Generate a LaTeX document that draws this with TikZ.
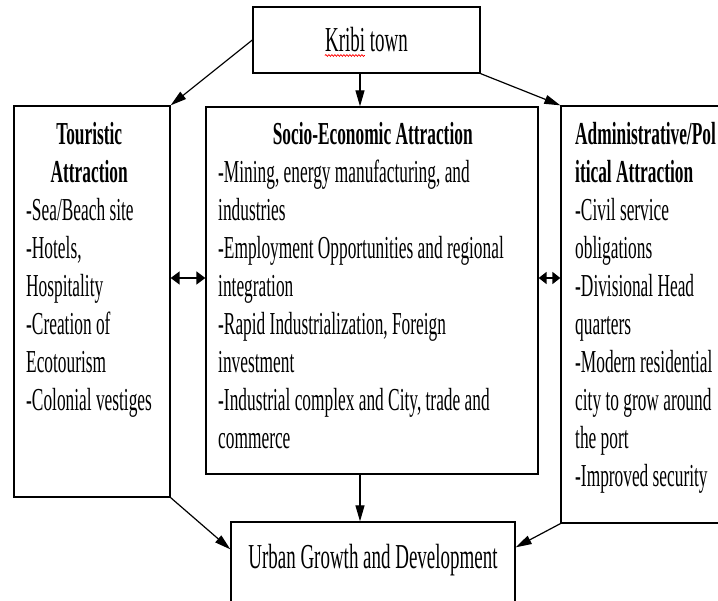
\documentclass[tikz,border=0pt]{standalone}
\usepackage{fontspec}
\setmainfont{Liberation Serif}[FakeStretch=0.542]
\usetikzlibrary{arrows.meta,decorations.pathmorphing}
\begin{document}
\begin{tikzpicture}[x=1pt,y=-1pt,
  box/.style={draw, line width=1.3pt, inner sep=0pt},
  arr/.style={line width=1.2pt, -{Triangle[length=16pt,width=9pt]}},
  dbl/.style={line width=1.8pt, {Triangle[length=9pt,width=13pt]}-{Triangle[length=9pt,width=13pt]}},
  dbls/.style={line width=1.8pt, {Triangle[length=8pt,width=12pt]}-{Triangle[length=8pt,width=12pt]}},
  body/.style={inner sep=0pt, anchor=base west, font=\fontsize{32}{38}\selectfont},
  big/.style={inner sep=0pt, anchor=base, font=\fontsize{35}{40}\selectfont},
]
\useasboundingbox[fill=white] (0,0) rectangle (718,601);
\clip (0,0) rectangle (718,601);

% boxes
\node[box, minimum width=227pt, minimum height=66pt] (kribi) at (366.5,40) {};
\node[box, minimum width=156pt, minimum height=391pt] (tour) at (92,301.5) {};
\node[box, minimum width=332pt, minimum height=367pt] (socio) at (372,290.5) {};
\node[box, minimum width=209pt, minimum height=417pt] (admin) at (665.5,314.5) {};
\node[box, minimum width=284pt, minimum height=128pt] (urban) at (373,586) {};

% texts
\node[big] (kribiT) at (366.5,52) {Kribi town};
\draw[red, line width=0.7pt, decorate, decoration={snake, amplitude=0.9pt, segment length=3pt}]
  ([yshift=-3.5pt]kribiT.base west) -- ++(40,0);

\node[body] (tourT) at (26,145) {\parbox[t]{126pt}{\raggedright
\makebox[\linewidth]{\bfseries Touristic}\\
\makebox[\linewidth]{\bfseries Attraction}\\
-Sea/Beach site\\
-Hotels,\\
Hospitality\\
-Creation of\\
Ecotourism\\
-Colonial vestiges}};

\node[body] (socioT) at (218,145) {\parbox[t]{309pt}{\raggedright
\makebox[\linewidth]{\bfseries Socio-Economic Attraction}\\
-Mining, energy manufacturing, and\\
industries\\
-Employment Opportunities and regional\\
integration\\
-Rapid Industrialization, Foreign\\
investment\\
-Industrial complex and City, trade and\\
commerce}};

\node[body] (adminT) at (575,145) {\parbox[t]{160pt}{\raggedright
\textbf{Administrative/Pol}\\
\textbf{itical Attraction}\\
-Civil service\\
obligations\\
-Divisional Head\\
quarters\\
-Modern residential\\
city to grow around\\
the port\\
-Improved security}};

\node[big] (urbanT) at (373,568) {Urban Growth and Development};

% connectors
\draw[arr] (kribi.west) -- (tour.north east);
\draw[arr] ([xshift=-6.5pt]kribi.south) -- ([xshift=-6.5pt]kribi.south |- socio.north);
\draw[arr] (kribi.south east) -- (admin.north west);
\draw[arr] (tour.south east) -- ([yshift=-28pt]urban.north west);
\draw[arr] ([xshift=-12pt]socio.south) -- ([xshift=-12pt]socio.south |- urban.north);
\draw[arr] (admin.south west) -- ([yshift=-26pt]urban.north east);
\draw[dbl] ([yshift=23.5pt]tour.east) -- ([yshift=23.5pt]tour.east -| socio.west);
\draw[dbls] ([yshift=12.5pt]socio.east) -- ([yshift=12.5pt]socio.east -| admin.west);
\end{tikzpicture}
\end{document}
